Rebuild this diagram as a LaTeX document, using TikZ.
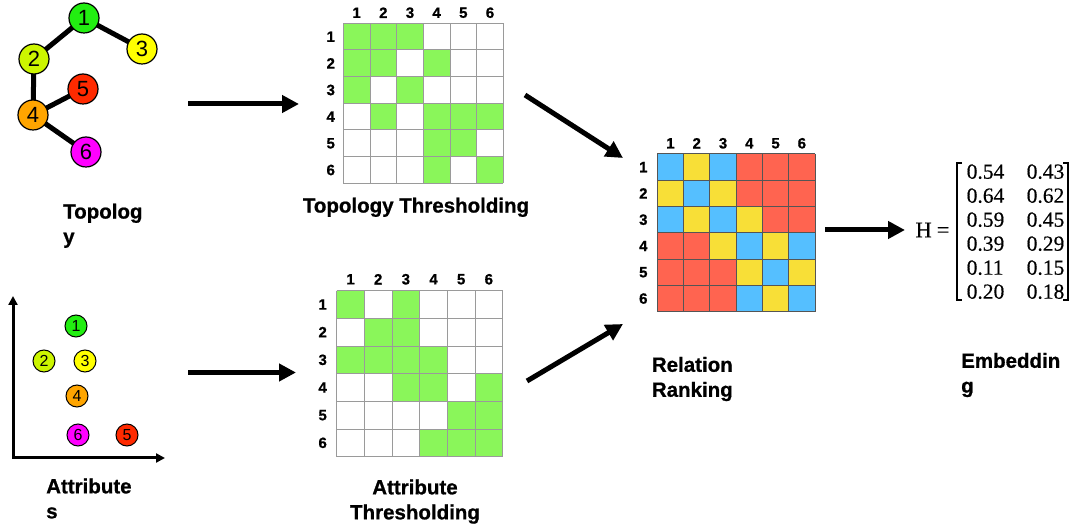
\documentclass[tikz,border=0pt]{standalone}
\usepackage{fontspec}
\setmainfont{Liberation Sans}[BoldFeatures={FakeBold=0.8}]
\newfontfamily\serifnum{Liberation Serif}[FakeBold=0.4]
\usetikzlibrary{arrows.meta}
\definecolor{nA}{HTML}{22EE11}
\definecolor{nB}{HTML}{CCF500}
\definecolor{nC}{HTML}{FFFF00}
\definecolor{nD}{HTML}{FFA500}
\definecolor{nE}{HTML}{FF2A00}
\definecolor{nF}{HTML}{FF00FF}
\definecolor{gfill}{HTML}{8AF65A}
\definecolor{gline}{HTML}{9A9A9A}
\definecolor{rline}{HTML}{555555}
\definecolor{cB}{HTML}{55BFFF}
\definecolor{cY}{HTML}{F8DF37}
\definecolor{cR}{HTML}{FF6450}
\begin{document}
\begin{tikzpicture}[x=1pt,y=-1pt,
  gnode/.style={circle, draw=black, line width=1.2pt, minimum size=30pt, inner sep=0pt, font=\fontsize{22}{22}\selectfont},
  snode/.style={circle, draw=black, line width=1pt, minimum size=22pt, inner sep=0pt, font=\fontsize{16}{16}\selectfont},
  gedge/.style={line width=5pt},
  bigarrow/.style={line width=5pt, -{Triangle[length=17pt,width=17pt]}},
  axisline/.style={line width=3pt, {Triangle[length=9pt,width=9pt]}-{Triangle[length=9pt,width=9pt]}},
  lbl/.style={font=\bfseries\fontsize{20.5}{25}\selectfont, inner sep=0pt},
  idx/.style={font=\bfseries\fontsize{15}{15}\selectfont, inner sep=0pt},
  num/.style={font=\serifnum\fontsize{21.5}{21.5}\selectfont, inner sep=0pt},
  frame/.style={inner sep=0pt, draw=none}
]
\useasboundingbox[fill=white] (0,0) rectangle (1080,529);

% ---------- Topology graph ----------
\coordinate (p1) at (84,18);
\coordinate (p2) at (34,59);
\coordinate (p3) at (142,49);
\coordinate (p4) at (33,115);
\coordinate (p5) at (83,89);
\coordinate (p6) at (86,152);
\draw[gedge] (p1) -- (p2);
\draw[gedge] (p1) -- (p3);
\draw[gedge] (p2) -- (p4);
\draw[gedge] (p4) -- (p5);
\draw[gedge] (p4) -- (p6);
\node[gnode, fill=nA] (g1) at (p1) {1};
\node[gnode, fill=nB] (g2) at (p2) {2};
\node[gnode, fill=nC] (g3) at (p3) {3};
\node[gnode, fill=nD] (g4) at (p4) {4};
\node[gnode, fill=nE] (g5) at (p5) {5};
\node[gnode, fill=nF] (g6) at (p6) {6};
\node[lbl, align=left, anchor=north west] (tlab) at (63,203.5) {Topolog\\y};

% ---------- Attribute scatter ----------
\coordinate (ytip) at (13,296);
\coordinate (orig) at (13,458);
\coordinate (xtip) at (165,458);
\draw[axisline, line join=miter] (ytip) -- (orig) -- (xtip);
\node[snode, fill=nA] (s1) at (76,326) {1};
\node[snode, fill=nB] (s2) at (44,361) {2};
\node[snode, fill=nC] (s3) at (85,361) {3};
\node[snode, fill=nD] (s4) at (77,396) {4};
\node[snode, fill=nE] (s5) at (127,435) {5};
\node[snode, fill=nF] (s6) at (78,435) {6};
\node[lbl, align=left, anchor=north west] (alab) at (46,478.3) {Attribute\\s};

% ---------- Topology thresholding matrix ----------
\begin{scope}[shift={(343.33,23.33)}]
\def\cs{26.667}
\node[frame, minimum width=160pt, minimum height=160pt, anchor=north west] (topM) at (0,0) {};
\foreach \r/\cols in {1/{1,2,3},2/{1,2,4},3/{1,3},4/{2,4,5,6},5/{4,5},6/{4,6}}{
  \foreach \c in \cols {
    \fill[gfill] ({(\c-1)*\cs},{(\r-1)*\cs}) rectangle ++(\cs,\cs);
  }
}
\foreach \i in {0,...,6}{
  \draw[gline, line width=1pt] ({\i*\cs},0) -- ({\i*\cs},{6*\cs});
  \draw[gline, line width=1pt] (0,{\i*\cs}) -- ({6*\cs},{\i*\cs});
}
\foreach \i in {1,...,6}{
  \node[idx] at ({(\i-0.5)*\cs},-10.6) {\i};
  \node[idx] at (-12.6,{(\i-0.5)*\cs}) {\i};
}
\end{scope}
\node[lbl, anchor=north] (tthr) at (416,197.5) {Topology Thresholding};

% ---------- Attribute thresholding matrix ----------
\begin{scope}[shift={(336.67,290.67)}]
\def\cs{27.667}
\node[frame, minimum width=166pt, minimum height=166pt, anchor=north west] (botM) at (0,0) {};
\foreach \r/\cols in {1/{1,3},2/{2,3},3/{1,2,3,4},4/{3,4,6},5/{5,6},6/{4,5,6}}{
  \foreach \c in \cols {
    \fill[gfill] ({(\c-1)*\cs},{(\r-1)*\cs}) rectangle ++(\cs,\cs);
  }
}
\foreach \i in {0,...,6}{
  \draw[gline, line width=1pt] ({\i*\cs},0) -- ({\i*\cs},{6*\cs});
  \draw[gline, line width=1pt] (0,{\i*\cs}) -- ({6*\cs},{\i*\cs});
}
\foreach \i in {1,...,6}{
  \node[idx] at ({(\i-0.5)*\cs},-11.4) {\i};
  \node[idx] at (-14,{(\i-0.5)*\cs}) {\i};
}
\end{scope}
\node[lbl, align=center, anchor=north] (athr) at (415,479.3) {Attribute\\Thresholding};

% ---------- Relation ranking matrix ----------
\begin{scope}[shift={(657.33,154)}]
\def\cs{26.28}
\node[frame, minimum width=157.7pt, minimum height=157.7pt, anchor=north west] (relM) at (0,0) {};
\foreach \r/\row in {1/{B,Y,B,R,R,R},2/{Y,B,Y,R,R,R},3/{B,Y,B,Y,R,R},4/{R,R,Y,B,Y,B},5/{R,R,R,Y,B,Y},6/{R,R,R,B,Y,B}}{
  \foreach \col [count=\c] in \row {
    \fill[c\col] ({(\c-1)*\cs},{(\r-1)*\cs}) rectangle ++(\cs,\cs);
  }
}
\foreach \i in {0,...,6}{
  \draw[rline, line width=1pt] ({\i*\cs},0) -- ({\i*\cs},{6*\cs});
  \draw[rline, line width=1pt] (0,{\i*\cs}) -- ({6*\cs},{\i*\cs});
}
\foreach \i in {1,...,6}{
  \node[idx] at ({(\i-0.5)*\cs},-10.7) {\i};
  \node[idx] at (-14,{(\i-0.5)*\cs}) {\i};
}
\end{scope}
\node[lbl, align=left, anchor=north west] (rlab) at (651.7,356.7) {Relation\\Ranking};

% ---------- Embedding ----------
\node[num, font=\serifnum\fontsize{22.5}{22.5}\selectfont] (H) at (932.5,230) {H\hspace{5pt}=};
\foreach \a/\b [count=\i] in {0.54/0.43,0.64/0.62,0.59/0.45,0.39/0.29,0.11/0.15,0.20/0.18}{
  \node[num, anchor=west] (ea\i) at (966.5,{171.7+24*(\i-1)}) {\a};
  \node[num, anchor=west] (eb\i) at (1026.5,{171.7+24*(\i-1)}) {\b};
}
\coordinate (lbt) at (957,163);
\coordinate (lbb) at (957,300);
\coordinate (rbt) at (1068,163);
\coordinate (rbb) at (1068,300);
\draw[line width=1.5pt] ([xshift=5pt]lbt) -- (lbt) -- (lbb) -- ([xshift=5pt]lbb);
\draw[line width=1.5pt] ([xshift=-5pt]rbt) -- (rbt) -- (rbb) -- ([xshift=-5pt]rbb);
\node[lbl, align=left, anchor=north west] (elab) at (961,352.7) {Embeddin\\g};

% ---------- Arrows ----------
\coordinate (a1s) at (188,104);   \coordinate (a1e) at (299,104);
\coordinate (a2s) at (188,372.5); \coordinate (a2e) at (296,372.5);
\coordinate (a3s) at (525,95);    \coordinate (a3e) at (623,158);
\coordinate (a4s) at (527,381);   \coordinate (a4e) at (623,324);
\coordinate (a5s) at (825,230);   \coordinate (a5e) at (905,230);
\draw[bigarrow] (a1s) -- (a1e);
\draw[bigarrow] (a2s) -- (a2e);
\draw[bigarrow] (a3s) -- (a3e);
\draw[bigarrow] (a4s) -- (a4e);
\draw[bigarrow] (a5s) -- (a5e);
\end{tikzpicture}
\end{document}
